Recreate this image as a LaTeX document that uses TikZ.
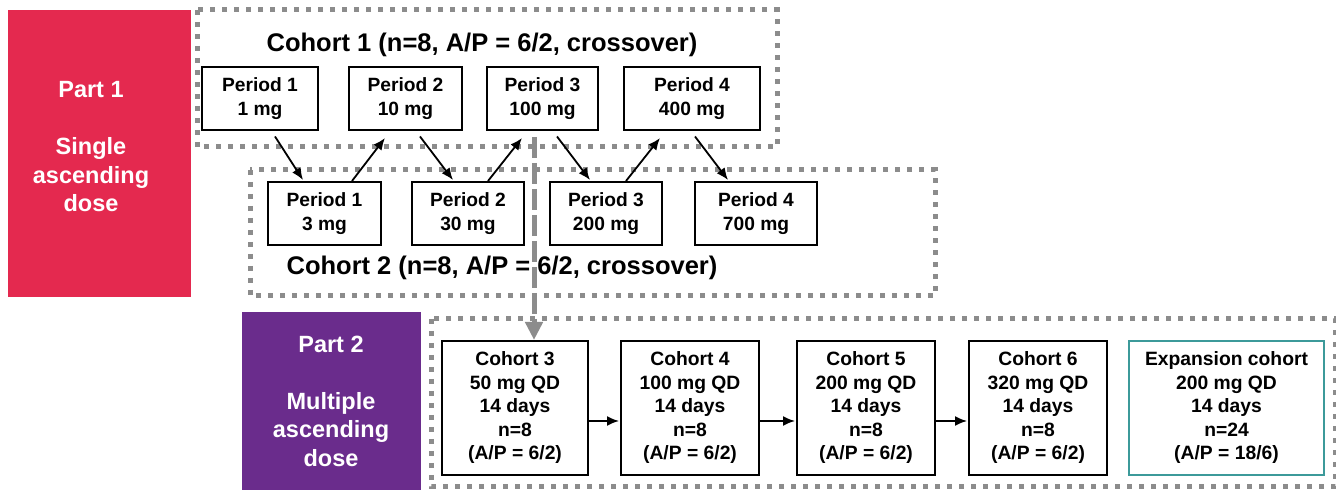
\documentclass[tikz,border=0pt]{standalone}
\usepackage{fontspec}
\setmainfont{Liberation Sans}
\usetikzlibrary{arrows.meta,calc}
\definecolor{partred}{HTML}{E4294F}
\definecolor{partpurple}{HTML}{6A2C8C}
\definecolor{dotgray}{HTML}{8C8C8C}
\definecolor{expteal}{HTML}{3C9A9A}

\begin{document}
\begin{tikzpicture}[x=0.5pt, y=-0.5pt,
  dotframe/.style={dotgray, line width=2.5pt, dash pattern=on 2.5pt off 3.5pt},
  periodbox/.style={draw=black, line width=1pt, fill=white, align=center, inner sep=0pt,
    minimum height=31.5pt, font=\fontsize{9.6}{12}\selectfont\bfseries},
  cohortbox/.style={draw=black, line width=1pt, fill=white, align=center, inner sep=0pt,
    minimum height=67pt, font=\fontsize{9.65}{11.75}\selectfont\bfseries},
  parttext/.style={text=white, align=center, font=\fontsize{11.75}{14.25}\selectfont\bfseries},
  titletext/.style={anchor=base, font=\fontsize{12.75}{15}\selectfont\bfseries},
  stepline/.style={-{Latex[length=6pt,width=5pt]}, line width=0.9pt},
  droparrow/.style={dotgray, line width=2.5pt, dash pattern=on 10.5pt off 2.5pt,
    -{Triangle[length=9pt,width=8.5pt]}}]

  \useasboundingbox (0,0) rectangle (1336,490);

  % Part labels
  \fill[partred] (8,10) rectangle (191,297);
  \node[parttext] (part1) at (91,147) {Part 1\\[14.25pt]Single\\ascending\\dose};
  \fill[partpurple] (242,312) rectangle (421,490);
  \node[parttext] (part2) at (331,401) {Part 2\\[14.25pt]Multiple\\ascending\\dose};

  % Cohort frames (dotted)
  \draw[dotframe] (197,10) rectangle (777,147);
  \draw[dotframe] (250,170) rectangle (935,296);
  \draw[dotframe] (431,319) rectangle (1335,487);

  % Cohort 1 periods
  \node[titletext] (c1title) at (482,52) {Cohort 1 (n=8, A/P = 6/2, crossover)};
  \foreach \n/\cx/\w/\txt in {1/260/116/{Period 1\\1 mg}, 2/405.5/113/{Period 2\\10 mg},
      3/542.5/111/{Period 3\\100 mg}, 4/692/136/{Period 4\\400 mg}}
    \node[periodbox, minimum width=\w*0.5pt] (c1p\n) at (\cx,98.5) {\txt};

  % Cohort 2 periods
  \node[titletext] (c2title) at (502,275) {Cohort 2 (n=8, A/P = 6/2, crossover)};
  \foreach \n/\cx/\w/\txt in {1/324.5/113/{Period 1\\3 mg}, 2/468/112/{Period 2\\30 mg},
      3/606/112/{Period 3\\200 mg}, 4/756/122/{Period 4\\700 mg}}
    \node[periodbox, minimum width=\w*0.5pt] (c2p\n) at (\cx,213.5) {\txt};

  % Crossover steps (zig-zag between the two cohorts)
  \foreach \a/\da/\b/\db in {c1p1/15/c2p1/-21.5, c1p2/14.5/c2p2/-15,
      c1p3/14.5/c2p3/-16, c1p4/3/c2p4/-28}
    \draw[stepline] ($(\a.south)+(\da,5.5)$) -- ($(\b.north)+(\db,-1)$);
  \foreach \a/\da/\b/\db in {c2p1/27.5/c1p2/-20.5, c2p2/20/c1p3/-20.5, c2p3/20/c1p4/-32}
    \draw[stepline] ($(\a.north)+(\da,0)$) -- ($(\b.south)+(\db,7)$);

  % Part 2 cohorts
  \foreach \n/\cx/\w/\dose in {3/515/146/50, 4/690/138/100, 5/866/138/200, 6/1038/138/320}
    \node[cohortbox, minimum width=\w*0.5pt] (c\n) at (\cx,408)
      {Cohort \n\\\dose{} mg QD\\14 days\\n=8\\(A/P = 6/2)};
  \node[cohortbox, draw=expteal, line width=0.8pt, minimum width=195*0.5pt] (exp) at (1226.5,408)
    {Expansion cohort\\200 mg QD\\14 days\\n=24\\(A/P = 18/6)};
  \foreach \a/\b in {c3/c4, c4/c5, c5/c6}
    \draw[stepline] ($(\a.east)+(0,13)$) -- ($(\b.west)+(-1,13)$);

  % From Part 1 down to Part 2
  \coordinate (drop) at (534,137);
  \draw[droparrow] (drop) -- (drop |- c3.north);

\end{tikzpicture}
\end{document}
